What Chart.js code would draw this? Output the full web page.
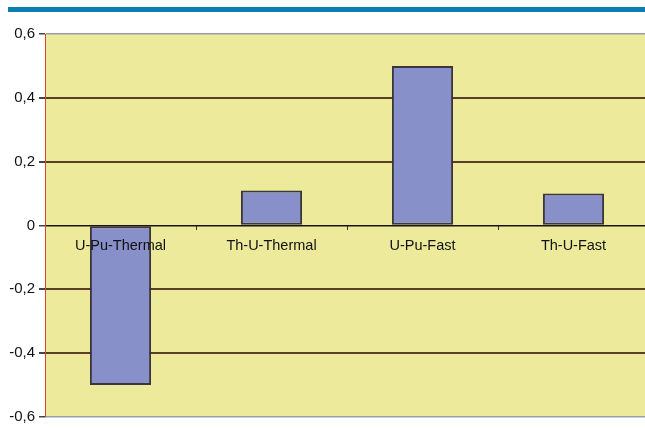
<!DOCTYPE html>
<html><head><meta charset="utf-8">
<script src="https://cdn.jsdelivr.net/npm/chart.js@4"></script>
<style>
html,body{margin:0;padding:0;background:#fff;overflow:hidden;}
#wrap{position:relative;width:645px;height:439px;overflow:hidden;}
#bar{position:absolute;left:8px;top:7px;width:637px;height:5px;background:#0a7db3;z-index:2;}
canvas{position:absolute;left:0;top:0;}
</style></head>
<body><div id="wrap"><div id="bar"></div><canvas id="c" width="650" height="439"></canvas></div>
<script>
const categories = ["U-Pu-Thermal", "Th-U-Thermal", "U-Pu-Fast", "Th-U-Fast"];
const values = [-0.5, 0.11, 0.5, 0.1];
const yMin = -0.6, yMax = 0.6, yStep = 0.2;

const bgPlugin = {
  id: 'bg',
  beforeDraw(chart) {
    const {ctx, chartArea: a} = chart;
    ctx.save();
    ctx.fillStyle = '#edeb9b';
    ctx.fillRect(a.left, a.top, a.right - a.left, a.bottom - a.top);
    ctx.restore();
  }
};

new Chart(document.getElementById('c'), {
  type: 'bar',
  data: {
    labels: categories,
    datasets: [{
      data: values,
      backgroundColor: '#8890c9',
      borderColor: '#3b3540',
      borderWidth: 2,
      borderSkipped: false,
      barPercentage: 0.81,
      categoryPercentage: 0.5
    }]
  },
  options: {
    responsive: false,
    animation: false,
    layout: { padding: { top: 34, right: 1, bottom: 22, left: 0 } },
    plugins: { legend: { display: false }, tooltip: { enabled: false } },
    scales: {
      x: {
        position: { y: 0 },
        offset: true,
        grid: { display: true, drawOnChartArea: false, drawTicks: true, tickLength: 4, offset: true, color: '#333', lineWidth: 1 },
        border: { display: false },
        ticks: { z: 1, color: '#111', font: { family: 'Liberation Sans, Arial', size: 14.5 }, padding: 8, maxRotation: 0 }
      },
      y: {
        min: yMin, max: yMax,
        afterFit(s) { s.width = 45; },
        border: { display: true, color: '#d04a2a', width: 1 },
        grid: {
          drawTicks: true, tickLength: 6,
          color: ctx => {
            const v = ctx.tick ? Math.round(ctx.tick.value * 10) / 10 : null;
            if (v === 0) return '#1a1410';
            if (v === 0.6 || v === -0.6) return '#9aa0a8';
            return '#5a4028';
          },
          lineWidth: ctx => {
            const v = ctx.tick ? Math.round(ctx.tick.value * 10) / 10 : null;
            if (v === 0) return 1.5;
            if (v === 0.6 || v === -0.6) return 1.5;
            return 2;
          },
          tickColor: '#444'
        },
        ticks: {
          stepSize: yStep,
          color: '#111',
          padding: 4,
          font: { family: 'Liberation Sans, Arial', size: 15 },
          callback: v => {
            const r = Math.round(v * 10) / 10;
            return r === 0 ? '0' : r.toFixed(1).replace('.', ',');
          }
        }
      }
    }
  },
  plugins: [bgPlugin]
});
</script></body></html>
